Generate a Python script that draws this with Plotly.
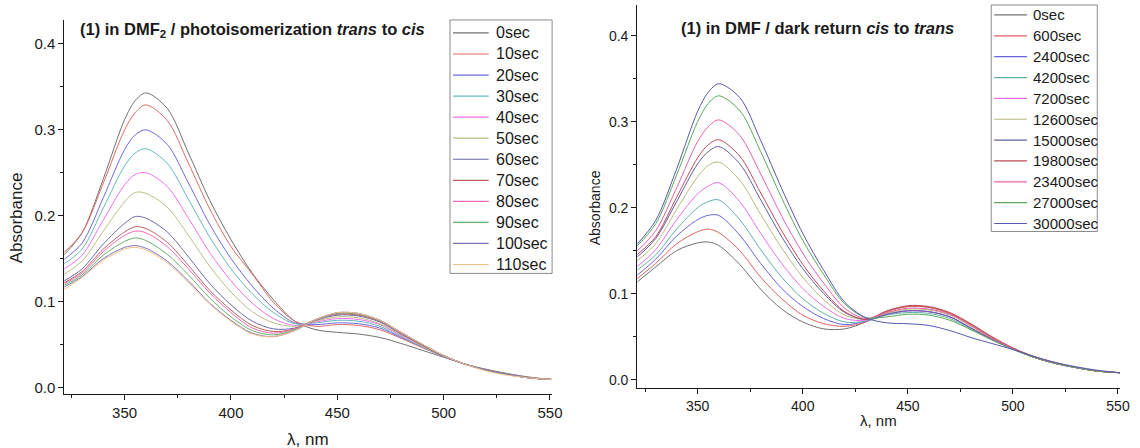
import plotly.graph_objects as go

# Wavelength grid (nm) shared by every spectrum
wavelength = [321, 330, 340, 350, 355, 360, 370, 380, 390, 400, 410, 420, 430,
              440, 450, 460, 470, 480, 490, 500, 510, 520, 530, 540, 551]

# --- Photoisomerization trans -> cis (absorbance) ---
photo_labels = ["0sec", "10sec", "20sec", "30sec", "40sec", "50sec",
                "60sec", "70sec", "80sec", "90sec", "100sec", "110sec"]
photo_0 = [0.153, 0.180, 0.243, 0.312, 0.334, 0.343, 0.325, 0.273, 0.218, 0.172, 0.133, 0.102, 0.077,
           0.067, 0.064, 0.062, 0.058, 0.051, 0.043, 0.035, 0.027, 0.021, 0.016, 0.012, 0.009]
photo_10 = [0.156, 0.180, 0.238, 0.300, 0.320, 0.329, 0.311, 0.261, 0.208, 0.164, 0.132, 0.099, 0.077,
            0.071, 0.073, 0.072, 0.067, 0.057, 0.046, 0.036, 0.027, 0.020, 0.015, 0.011, 0.009]
photo_20 = [0.148, 0.168, 0.221, 0.277, 0.294, 0.300, 0.283, 0.238, 0.190, 0.150, 0.118, 0.092, 0.075,
            0.073, 0.075, 0.074, 0.069, 0.058, 0.047, 0.036, 0.027, 0.020, 0.015, 0.011, 0.009]
photo_30 = [0.143, 0.161, 0.209, 0.258, 0.273, 0.278, 0.261, 0.219, 0.175, 0.138, 0.109, 0.087, 0.074,
            0.075, 0.078, 0.077, 0.071, 0.059, 0.047, 0.036, 0.027, 0.020, 0.015, 0.011, 0.009]
photo_40 = [0.137, 0.154, 0.195, 0.236, 0.248, 0.250, 0.234, 0.197, 0.157, 0.124, 0.098, 0.080, 0.072,
            0.076, 0.080, 0.079, 0.073, 0.060, 0.048, 0.036, 0.027, 0.020, 0.015, 0.011, 0.009]
photo_50 = [0.131, 0.147, 0.182, 0.216, 0.227, 0.226, 0.210, 0.177, 0.141, 0.111, 0.088, 0.075, 0.071,
            0.077, 0.082, 0.081, 0.074, 0.061, 0.048, 0.036, 0.027, 0.020, 0.015, 0.011, 0.009]
photo_60 = [0.123, 0.138, 0.167, 0.191, 0.199, 0.197, 0.181, 0.152, 0.121, 0.096, 0.077, 0.068, 0.069,
            0.078, 0.084, 0.083, 0.076, 0.062, 0.049, 0.036, 0.027, 0.020, 0.015, 0.011, 0.009]
photo_70 = [0.121, 0.135, 0.161, 0.181, 0.187, 0.185, 0.169, 0.142, 0.113, 0.090, 0.072, 0.065, 0.068,
            0.079, 0.085, 0.084, 0.077, 0.063, 0.049, 0.037, 0.027, 0.020, 0.015, 0.011, 0.009]
photo_80 = [0.120, 0.133, 0.158, 0.177, 0.182, 0.180, 0.164, 0.138, 0.110, 0.087, 0.069, 0.063, 0.068,
            0.079, 0.086, 0.085, 0.078, 0.063, 0.050, 0.037, 0.027, 0.020, 0.015, 0.011, 0.009]
photo_90 = [0.118, 0.131, 0.154, 0.170, 0.174, 0.171, 0.155, 0.131, 0.104, 0.082, 0.066, 0.061, 0.067,
            0.079, 0.086, 0.085, 0.078, 0.064, 0.050, 0.037, 0.027, 0.020, 0.015, 0.011, 0.009]
photo_100 = [0.116, 0.129, 0.150, 0.163, 0.165, 0.162, 0.147, 0.124, 0.098, 0.078, 0.063, 0.059, 0.066,
             0.079, 0.087, 0.086, 0.078, 0.064, 0.050, 0.037, 0.027, 0.020, 0.015, 0.011, 0.009]
photo_110 = [0.113, 0.128, 0.148, 0.161, 0.163, 0.160, 0.145, 0.122, 0.097, 0.077, 0.062, 0.059, 0.066,
             0.079, 0.087, 0.086, 0.078, 0.064, 0.050, 0.037, 0.027, 0.019, 0.014, 0.011, 0.009]
photo_series = [photo_0, photo_10, photo_20, photo_30, photo_40, photo_50,
                photo_60, photo_70, photo_80, photo_90, photo_100, photo_110]
photo_colors = ["#707070", "#e06a6a", "#6a6ae0", "#66b8b8", "#f070f0", "#bdbd85",
                "#6a6aa8", "#b86060", "#f06ab0", "#6aae6a", "#7878b8", "#f2be8a"]

# --- Dark return cis -> trans (absorbance) ---
dark_labels = ["0sec", "600sec", "2400sec", "4200sec", "7200sec", "12600sec",
               "15000sec", "19800sec", "23400sec", "27000sec", "30000sec"]
dark_0 = [0.113, 0.131, 0.150, 0.159, 0.160, 0.156, 0.134, 0.105, 0.082, 0.067, 0.059, 0.059, 0.067,
          0.079, 0.085, 0.084, 0.077, 0.064, 0.049, 0.036, 0.026, 0.019, 0.014, 0.010, 0.008]
dark_600 = [0.117, 0.135, 0.158, 0.172, 0.175, 0.171, 0.150, 0.119, 0.094, 0.075, 0.065, 0.062, 0.067,
            0.079, 0.085, 0.084, 0.077, 0.064, 0.049, 0.036, 0.026, 0.019, 0.014, 0.010, 0.008]
dark_2400 = [0.121, 0.140, 0.167, 0.186, 0.191, 0.191, 0.168, 0.135, 0.106, 0.085, 0.071, 0.064, 0.068,
             0.076, 0.080, 0.079, 0.073, 0.060, 0.047, 0.036, 0.026, 0.019, 0.014, 0.010, 0.008]
dark_4200 = [0.127, 0.145, 0.175, 0.200, 0.207, 0.209, 0.186, 0.151, 0.119, 0.094, 0.077, 0.067, 0.068,
             0.075, 0.078, 0.077, 0.071, 0.059, 0.047, 0.036, 0.026, 0.019, 0.014, 0.010, 0.008]
dark_7200 = [0.131, 0.151, 0.186, 0.216, 0.225, 0.229, 0.207, 0.170, 0.135, 0.106, 0.085, 0.071, 0.069,
             0.076, 0.080, 0.079, 0.073, 0.060, 0.047, 0.036, 0.026, 0.019, 0.014, 0.010, 0.008]
dark_12600 = [0.138, 0.158, 0.198, 0.236, 0.249, 0.253, 0.232, 0.192, 0.153, 0.119, 0.093, 0.075, 0.070,
              0.077, 0.082, 0.081, 0.075, 0.062, 0.048, 0.036, 0.026, 0.019, 0.014, 0.010, 0.008]
dark_15000 = [0.142, 0.164, 0.207, 0.251, 0.265, 0.271, 0.251, 0.209, 0.166, 0.129, 0.100, 0.078, 0.070,
              0.076, 0.080, 0.079, 0.073, 0.060, 0.047, 0.036, 0.026, 0.019, 0.014, 0.010, 0.008]
dark_19800 = [0.145, 0.166, 0.212, 0.258, 0.273, 0.279, 0.260, 0.217, 0.173, 0.134, 0.103, 0.079, 0.070,
              0.080, 0.086, 0.085, 0.078, 0.065, 0.050, 0.037, 0.027, 0.020, 0.014, 0.010, 0.008]
dark_23400 = [0.149, 0.173, 0.223, 0.277, 0.294, 0.302, 0.284, 0.239, 0.190, 0.147, 0.112, 0.083, 0.071,
              0.078, 0.083, 0.082, 0.076, 0.063, 0.048, 0.036, 0.026, 0.019, 0.014, 0.010, 0.008]
dark_27000 = [0.155, 0.181, 0.238, 0.300, 0.321, 0.330, 0.313, 0.265, 0.211, 0.162, 0.122, 0.088, 0.072,
              0.073, 0.076, 0.075, 0.069, 0.058, 0.046, 0.035, 0.026, 0.019, 0.014, 0.010, 0.008]
dark_30000 = [0.157, 0.185, 0.245, 0.312, 0.334, 0.344, 0.328, 0.278, 0.222, 0.170, 0.127, 0.090, 0.072,
              0.066, 0.065, 0.063, 0.057, 0.049, 0.042, 0.035, 0.027, 0.020, 0.015, 0.011, 0.008]
dark_series = [dark_0, dark_600, dark_2400, dark_4200, dark_7200, dark_12600,
               dark_15000, dark_19800, dark_23400, dark_27000, dark_30000]
dark_colors = ["#707070", "#e06060", "#6464e0", "#5fb0a8", "#e870e8", "#b8b87e",
               "#5e5ea0", "#c04858", "#e860a8", "#5aa85a", "#5858b0"]

W, H = 1140, 448
FONT = "Liberation Sans, Arial, sans-serif"
INK = "#1a1a1a"


def px_x(x):
    return x / W


def px_y(y):
    return 1 - y / H


fig = go.Figure()

for name, ys, col in zip(photo_labels, photo_series, photo_colors):
    fig.add_trace(go.Scatter(
        x=wavelength, y=ys, name=name, mode="lines", showlegend=False,
        line=dict(color=col, width=1, shape="spline", smoothing=0.9),
        xaxis="x", yaxis="y"))

for name, ys, col in zip(dark_labels, dark_series, dark_colors):
    fig.add_trace(go.Scatter(
        x=wavelength, y=ys, name=name, mode="lines", showlegend=False,
        line=dict(color=col, width=1, shape="spline", smoothing=0.9),
        xaxis="x2", yaxis="y2"))

axis_style = dict(
    showline=True, linecolor=INK, linewidth=1.3,
    ticks="outside", ticklen=5, tickwidth=1, tickcolor=INK,
    showgrid=False, zeroline=False,
)

fig.update_layout(
    width=W, height=H,
    margin=dict(l=0, r=0, t=0, b=0),
    paper_bgcolor="white", plot_bgcolor="white",
    font=dict(family=FONT, color=INK),
    xaxis=dict(domain=[px_x(65), px_x(557)], range=[321.7, 551], anchor="y",
               dtick=50, tick0=0, minor=dict(dtick=25, ticks="outside", ticklen=3, tickcolor=INK),
               tickfont=dict(size=15), **axis_style),
    yaxis=dict(domain=[px_y(395), px_y(20)], range=[-0.008, 0.428], anchor="x",
               dtick=0.1, tick0=0, tickformat=".1f",
               minor=dict(dtick=0.05, ticks="outside", ticklen=3, tickcolor=INK),
               tickfont=dict(size=15), **axis_style),
    xaxis2=dict(domain=[px_x(643), px_x(1130)], range=[321.3, 551], anchor="y2",
                dtick=50, tick0=0, minor=dict(dtick=25, ticks="outside", ticklen=3, tickcolor=INK),
                tickfont=dict(size=14), **axis_style),
    yaxis2=dict(domain=[px_y(389), px_y(5)], range=[-0.0099, 0.4356], anchor="x2",
                dtick=0.1, tick0=0, tickformat=".1f",
                minor=dict(dtick=0.05, ticks="outside", ticklen=3, tickcolor=INK),
                tickfont=dict(size=14), **axis_style),
)

annotations = [
    dict(text="<b>(1) in DMF<sub>2</sub> / photoisomerization <i>trans</i> to <i>cis</i></b>",
         x=px_x(79), y=px_y(30), xanchor="left", yanchor="middle", font=dict(size=16.5)),
    dict(text="<b>(1) in DMF / dark return <i>cis</i> to <i>trans</i></b>",
         x=px_x(685), y=px_y(28), xanchor="left", yanchor="middle", font=dict(size=16.5)),
    dict(text="Absorbance", x=px_x(17), y=px_y(218), textangle=-90,
         xanchor="center", yanchor="middle", font=dict(size=17)),
    dict(text="Absorbance", x=px_x(600), y=px_y(208), textangle=-90,
         xanchor="center", yanchor="middle", font=dict(size=14)),
    dict(text="λ, nm", x=px_x(311), y=px_y(440), xanchor="center", yanchor="middle",
         font=dict(size=17)),
    dict(text="λ, nm", x=px_x(886), y=px_y(421), xanchor="center", yanchor="middle",
         font=dict(size=15)),
]
shapes = []


def add_legend_box(labels, colors, box, first_row, row_step, line_span, text_x, size):
    """Framed legend: one line sample and one label per series."""
    x0, y0, x1, y1 = box
    shapes.append(dict(type="rect", xref="paper", yref="paper", layer="above",
                       x0=px_x(x0), x1=px_x(x1), y0=px_y(y1), y1=px_y(y0),
                       line=dict(color="#8a8a8a", width=1), fillcolor="white"))
    for i, (lab, col) in enumerate(zip(labels, colors)):
        yc = first_row + row_step * i
        shapes.append(dict(type="line", xref="paper", yref="paper", layer="above",
                           x0=px_x(line_span[0]), x1=px_x(line_span[1]),
                           y0=px_y(yc), y1=px_y(yc), line=dict(color=col, width=1.2)))
        annotations.append(dict(text=lab, x=px_x(text_x), y=px_y(yc),
                                xanchor="left", yanchor="middle", font=dict(size=size)))


add_legend_box(photo_labels, photo_colors, (454, 20, 557, 274), 33, 21.1, (457, 493), 498, 16)
add_legend_box(dark_labels, dark_colors, (1000, 5, 1107, 232), 15, 20.9, (1003, 1036), 1040, 15)

for a in annotations:
    a.update(xref="paper", yref="paper", showarrow=False)
fig.update_layout(annotations=annotations, shapes=shapes)

fig.write_html("out.html")
